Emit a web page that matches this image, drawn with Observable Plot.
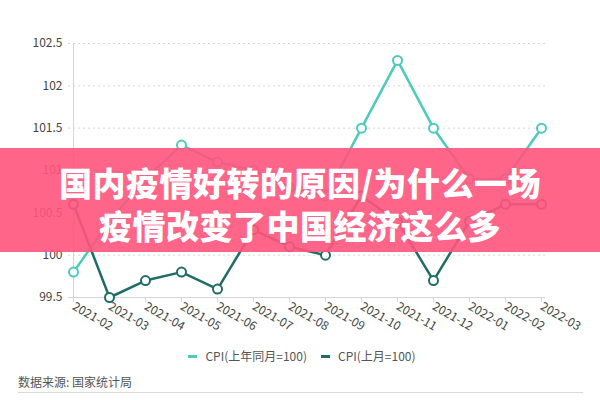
<!DOCTYPE html>
<html>
<head>
<meta charset="utf-8">
<script src="https://cdn.jsdelivr.net/npm/d3@7"></script>
<script src="https://cdn.jsdelivr.net/npm/@observablehq/plot@0.6"></script>
<style>
  html, body { margin: 0; padding: 0; background: #fff; }
  #wrap { position: relative; width: 600px; height: 400px; overflow: hidden; font-family: "Noto Sans CJK SC", "Noto Sans", sans-serif; }
  #chart { position: absolute; left: 0; top: 0; }
  #banner { position: absolute; left: 0; top: 148px; width: 600px; height: 104px; background: rgba(255, 84, 124, 0.9);
            color: #fff; font-weight: 900; font-size: 33px; line-height: 43px; text-align: center; box-sizing: border-box; padding-top: 13px;
            font-family: "Noto Sans CJK SC", sans-serif; letter-spacing: 0.5px; }
  #legend { position: absolute; top: 347px; left: 0; width: 604px; text-align: center; font-size: 12px; color: #555; }
  #legend span.item { display: inline-block; margin: 0 7px; }
  #legend i { display: inline-block; width: 9px; height: 3px; vertical-align: middle; margin-right: 8px; position: relative; top: -1px; }
  #source { position: absolute; left: 18px; top: 373px; font-size: 12px; color: #555; }
  #srcline { position: absolute; left: 18px; top: 392px; width: 565px; height: 1px; background: #d9d9d9; }
</style>
</head>
<body>
<div id="wrap">
  <div id="chart"></div>
  <div id="banner">国内疫情好转的原因/为什么一场<br>疫情改变了中国经济这么多</div>
  <div id="legend"></div>
  <div id="source">数据来源: 国家统计局</div>
  <div id="srcline"></div>
</div>
<script>
const months = ["2021-02","2021-03","2021-04","2021-05","2021-06","2021-07","2021-08","2021-09","2021-10","2021-11","2021-12","2022-01","2022-02","2022-03"];
const cpiYoY = [99.8,100.4,100.9,101.3,101.1,101.0,100.8,100.7,101.5,102.3,101.5,100.9,100.9,101.5];
const cpiMoM = [100.6,99.5,99.7,99.8,99.6,100.3,100.1,100.0,100.7,100.4,99.7,100.4,100.6,100.6];
const seriesNames = ["CPI(上年同月=100)", "CPI(上月=100)"];
const seriesColors = ["#4ccabb", "#1f6d66"];
const yTicks = [99.5, 100, 100.5, 101, 101.5, 102, 102.5];

const data = [];
months.forEach((m, i) => {
  data.push({month: m, value: cpiYoY[i], series: seriesNames[0]});
  data.push({month: m, value: cpiMoM[i], series: seriesNames[1]});
});

const yMin = yTicks[0], yMax = yTicks[yTicks.length - 1];

const chart = Plot.plot({
  width: 600,
  height: 340,
  marginLeft: 68,
  marginRight: 55,
  marginTop: 43,
  marginBottom: 43,
  style: {fontSize: "12px", color: "#444", fontFamily: "'Noto Sans CJK SC', 'Noto Sans', sans-serif", background: "transparent"},
  x: {type: "point", domain: months, padding: 0, label: null},
  y: {domain: [yMin, yMax], label: null},
  color: {domain: seriesNames, range: seriesColors},
  marks: [
    Plot.ruleY(yTicks.slice(1), {stroke: "#d8d8d8", strokeDasharray: "2,3", strokeWidth: 1}),
    Plot.ruleX([months[0]], {y1: yMin, y2: yMax, stroke: "#d4d4d4"}),
    Plot.ruleY([yMin], {stroke: "#d4d4d4"}),
    Plot.axisY({ticks: yTicks, tickSize: 0, tickPadding: 6, tickFormat: d => String(d), stroke: "#444", fontSize: 12}),
    Plot.axisX({tickRotate: 30, tickSize: 5, tickPadding: 3, stroke: "#d4d4d4", fill: "#444", fontSize: 12}),
    Plot.line(data, {x: "month", y: "value", stroke: "series", strokeWidth: 2.5}),
    Plot.dot(data, {x: "month", y: "value", stroke: "series", fill: "white", r: 4.5, strokeWidth: 2})
  ]
});
document.getElementById("chart").appendChild(chart);

const legend = document.getElementById("legend");
seriesNames.forEach((name, i) => {
  const item = document.createElement("span");
  item.className = "item";
  const sw = document.createElement("i");
  sw.style.background = seriesColors[i];
  item.appendChild(sw);
  item.appendChild(document.createTextNode(name));
  legend.appendChild(item);
});
</script>
</body>
</html>
